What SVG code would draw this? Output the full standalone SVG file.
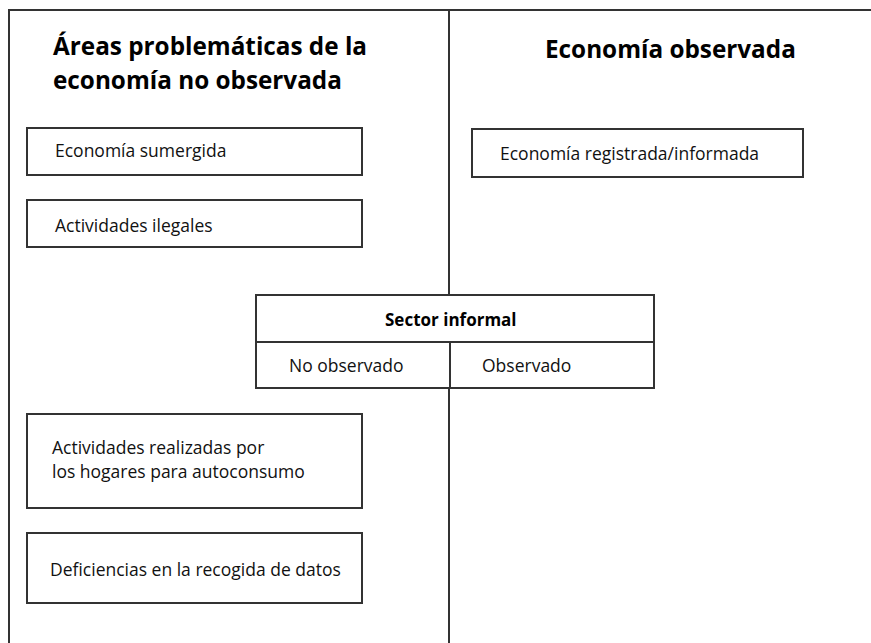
<svg xmlns="http://www.w3.org/2000/svg" width="871" height="643" viewBox="0 0 871 643">
<style>
.frame{fill:none;stroke:#333;stroke-width:2}
.box{fill:#fff;stroke:#333;stroke-width:2}
.t{font-family:"Open Sans","Noto Sans",sans-serif;fill:#111;font-size:17.5px}
.h{font-family:"Open Sans","Noto Sans",sans-serif;fill:#000;font-size:24.3px;font-weight:bold}
.b{font-family:"Open Sans","Noto Sans",sans-serif;fill:#000;font-size:17px;font-weight:bold}
</style>
<rect width="871" height="643" fill="#fff"/>
<g id="frame">
<path class="frame" d="M9,643 V10 H871"/>
<path class="frame" d="M449,10 V295 M449,342 V643"/>
</g>
<g id="titles">
<text class="h" x="53" y="55">Áreas problemáticas de la</text>
<text class="h" x="53" y="89">economía no observada</text>
<text class="h" x="545" y="58">Economía observada</text>
</g>
<g id="n1"><rect class="box" x="27" y="128" width="335" height="47"/><text class="t" x="55" y="157">Economía sumergida</text></g>
<g id="n2"><rect class="box" x="27" y="200" width="335" height="47"/><text class="t" x="55" y="232">Actividades ilegales</text></g>
<g id="n3"><rect class="box" x="27" y="414" width="335" height="94"/><text class="t" x="52" y="454">Actividades realizadas por</text><text class="t" x="52" y="478">los hogares para autoconsumo</text></g>
<g id="n4"><rect class="box" x="27" y="533" width="335" height="70"/><text class="t" x="50" y="576">Deficiencias en la recogida de datos</text></g>
<g id="n5"><rect class="box" x="472" y="129" width="331" height="48"/><text class="t" x="500" y="160">Economía registrada/informada</text></g>
<g id="n6">
<rect class="box" x="256" y="295" width="398" height="93"/>
<path class="frame" d="M256,342 H654 M450,342 V388"/>
<text class="b" x="385" y="326">Sector informal</text>
<text class="t" x="289" y="372">No observado</text>
<text class="t" x="482" y="372">Observado</text>
</g>
</svg>
